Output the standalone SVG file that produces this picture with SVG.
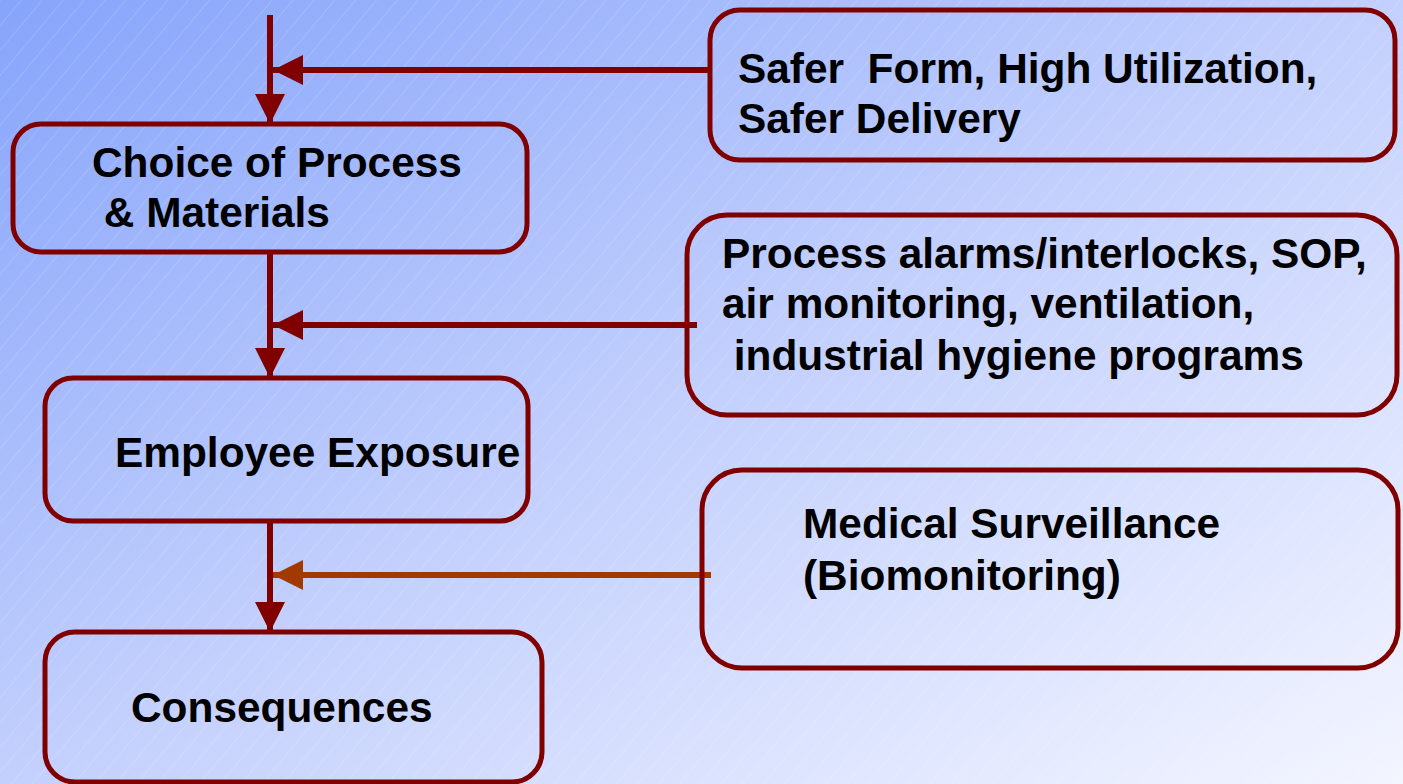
<svg xmlns="http://www.w3.org/2000/svg" width="1403" height="784" viewBox="0 0 1403 784">
<defs>
<linearGradient id="bg" x1="0" y1="0" x2="1" y2="1">
<stop offset="0" stop-color="#86a4fb"/>
<stop offset="0.5" stop-color="#c3d0fd"/>
<stop offset="1" stop-color="#f3f5ff"/>
</linearGradient>
<pattern id="hatch" width="16" height="16" patternUnits="userSpaceOnUse" patternTransform="rotate(40)">
<line x1="0" y1="0" x2="0" y2="16" stroke="#ffffff" stroke-width="0.8" stroke-opacity="0.35"/>
</pattern>
<marker id="ah" markerUnits="userSpaceOnUse" markerWidth="30" markerHeight="32" refX="30" refY="16" orient="auto">
<path d="M0,1 L30,16 L0,31 Z" fill="#800000"/>
</marker>
<marker id="ah2" markerUnits="userSpaceOnUse" markerWidth="30" markerHeight="32" refX="30" refY="16" orient="auto">
<path d="M0,1 L30,16 L0,31 Z" fill="#a23a00"/>
</marker>
</defs>
<style>
.box{fill:none;stroke:#800000;stroke-width:5}
.t{font-family:"Liberation Sans",Arial,sans-serif;font-weight:bold;font-size:42.4px;fill:#000}
.c{stroke:#800000;stroke-width:6;fill:none}
</style>
<rect x="0" y="0" width="1403" height="784" fill="url(#bg)"/>
<rect x="0" y="0" width="1403" height="784" fill="url(#hatch)"/>

<g id="connectors">
<line class="c" x1="270" y1="15" x2="270" y2="124" marker-end="url(#ah)"/>
<line class="c" x1="710" y1="70" x2="273" y2="70" marker-end="url(#ah)"/>
<line class="c" x1="270" y1="252" x2="270" y2="378" marker-end="url(#ah)"/>
<line class="c" x1="697" y1="325" x2="273" y2="325" marker-end="url(#ah)"/>
<line class="c" x1="270" y1="521" x2="270" y2="632" marker-end="url(#ah)"/>
<line class="c" x1="711" y1="575" x2="273" y2="575" style="stroke:#a23a00" marker-end="url(#ah2)"/>
</g>

<g id="choice">
<rect class="box" x="13" y="124" width="514" height="128" rx="28"/>
<text class="t" x="92" y="177">Choice of Process</text>
<text class="t" x="92" y="227" xml:space="preserve"> &amp; Materials</text>
</g>
<g id="exposure">
<rect class="box" x="45" y="378" width="483" height="143" rx="28"/>
<text class="t" x="115" y="467">Employee Exposure</text>
</g>
<g id="consequences">
<rect class="box" x="45" y="632" width="497" height="150" rx="30"/>
<text class="t" x="131" y="722">Consequences</text>
</g>
<g id="safer">
<rect class="box" x="710" y="10" width="685" height="150" rx="30"/>
<text class="t" x="738" y="83" xml:space="preserve">Safer  Form, High Utilization,</text>
<text class="t" x="738" y="133">Safer Delivery</text>
</g>
<g id="process">
<rect class="box" x="687" y="215" width="710" height="200" rx="40"/>
<text class="t" x="722" y="268">Process alarms/interlocks, SOP,</text>
<text class="t" x="722" y="318">air monitoring, ventilation,</text>
<text class="t" x="722" y="370" xml:space="preserve"> industrial hygiene programs</text>
</g>
<g id="medical">
<rect class="box" x="702" y="470" width="696" height="198" rx="40"/>
<text class="t" x="803" y="538">Medical Surveillance</text>
<text class="t" x="803" y="590">(Biomonitoring)</text>
</g>
</svg>
